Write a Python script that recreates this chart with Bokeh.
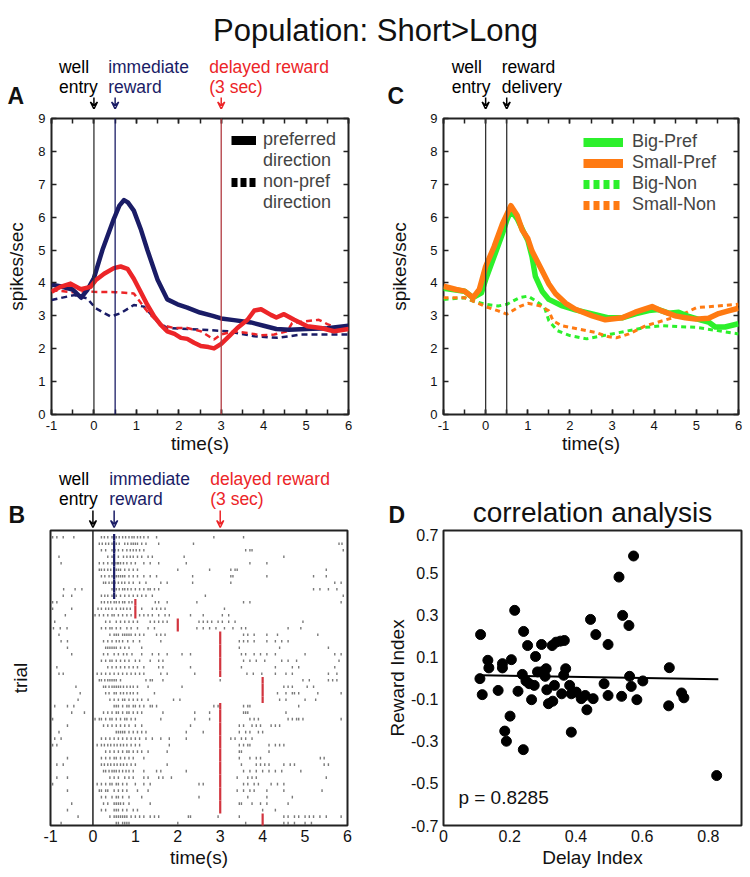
from bokeh.plotting import figure
from bokeh.layouts import column, row
from bokeh.models import (Range1d, LinearAxis, Span, Label, Arrow, VeeHead,
                          Legend, LegendItem, FixedTicker)
from bokeh.embed import file_html
from bokeh.resources import INLINE

FONT = "Liberation Sans"
NAVY = "#1a1c66"
RED = "#ec2528"
DARKRED = "#b23a40"
GREEN = "#2cf02c"
ORANGE = "#ff7a12"
NAN = float("nan")

# ---------------- data ----------------
title_text = "Population: Short>Long"

time_ticks = [-1, 0, 1, 2, 3, 4, 5, 6]
time_labels = ["-1", "0", "1", "2", "3", "4", "5", "6"]
time_minor = [-1, -0.5, 0, 0.5, 1, 1.5, 2, 2.5, 3, 3.5, 4, 4.5, 5, 5.5, 6]
rate_ticks = [0, 1, 2, 3, 4, 5, 6, 7, 8, 9]

# Panel A: immediate (blue) vs delayed (red), preferred (solid) / non-pref (dashed)
a_imm_pref_t = [-1, -0.8, -0.5, -0.3, -0.15, 0, 0.2, 0.47, 0.6, 0.71, 0.8, 0.94, 1.1, 1.26, 1.5,
                1.73, 1.97, 2.2, 2.5, 2.8, 3.0, 3.3, 3.7, 4.0, 4.3, 4.6, 5.0, 5.5, 6.0]
a_imm_pref_y = [3.95, 3.9, 3.8, 3.55, 3.8, 4.15, 5.0, 5.95, 6.35, 6.52, 6.45, 6.2, 5.65, 5.0, 4.1,
                3.5, 3.35, 3.25, 3.1, 3.0, 2.92, 2.87, 2.8, 2.7, 2.6, 2.58, 2.6, 2.62, 2.7]
a_del_pref_t = [-1, -0.79, -0.55, -0.31, -0.08, 0.04, 0.24, 0.47, 0.63, 0.79, 0.94, 1.1, 1.26, 1.42,
                1.57, 1.73, 1.9, 2.05, 2.2, 2.36, 2.52, 2.7, 2.83, 3.0, 3.2, 3.38, 3.62, 3.78, 3.94,
                4.17, 4.3, 4.48, 4.72, 5.03, 5.35, 5.66, 6.0]
a_del_pref_y = [3.73, 3.88, 3.98, 3.81, 3.88, 4.08, 4.28, 4.45, 4.5, 4.43, 4.13, 3.73, 3.33, 2.98,
                2.73, 2.53, 2.45, 2.33, 2.3, 2.18, 2.08, 2.05, 2.01, 2.15, 2.4, 2.63, 2.88, 3.16, 3.2,
                3.03, 2.95, 3.05, 2.88, 2.68, 2.63, 2.53, 2.6]
a_imm_non_t = [-1, -0.47, -0.16, 0.04, 0.39, 0.63, 0.94, 1.18, 1.49, 1.73, 2.52, 3.15, 3.78, 4.33, 4.88, 6.0]
a_imm_non_y = [3.48, 3.63, 3.53, 3.23, 2.98, 3.08, 3.33, 3.28, 2.83, 2.63, 2.58, 2.53, 2.38, 2.33, 2.43, 2.43]
a_del_non_t = [-1, -0.5, -0.2, 0, 0.5, 0.94, 1.26, 1.57, 1.89, 2.2, 2.52, 2.83, 2.99, 3.3, 3.62, 3.94,
               4.25, 4.56, 4.67, 4.98, 5.3, 5.5, 5.7, 6.0]
a_del_non_y = [3.78, 3.72, 3.75, 3.73, 3.72, 3.68, 3.13, 2.73, 2.63, 2.63, 2.53, 2.28, 2.43, 2.53, 2.48,
               2.41, 2.43, 2.53, 2.78, 2.83, 2.88, 2.75, 2.65, 2.63]
a_event_t = [0, 0.5, 3]
a_event_text = ["well\nentry", "immediate\nreward", "delayed reward\n(3 sec)"]
a_legend = ["preferred", "direction", "non-pref", "direction"]

# Panel C: big / small reward
c_big_pref_t = [-1, -0.5, -0.3, -0.1, 0, 0.2, 0.4, 0.5, 0.6, 0.75, 0.9, 1.0, 1.1, 1.18, 1.34, 1.5,
                1.82, 2.13, 2.53, 2.92, 3.24, 3.55, 3.87, 4.1, 4.34, 4.58, 4.82, 5.13, 5.29, 5.45, 5.68, 6.0]
c_big_pref_y = [3.84, 3.75, 3.55, 3.7, 4.1, 4.8, 5.5, 5.9, 6.2, 5.95, 5.55, 5.3, 4.8, 4.2, 3.75, 3.5,
                3.3, 3.18, 3.06, 2.94, 2.94, 3.06, 3.16, 3.19, 3.08, 3.11, 2.98, 2.86, 2.81, 2.66, 2.66, 2.76]
c_small_pref_t = [-1, -0.7, -0.5, -0.3, -0.15, 0, 0.2, 0.4, 0.6, 0.75, 0.87, 1.0, 1.1, 1.34, 1.5, 1.66,
                  1.9, 2.13, 2.53, 2.84, 3.24, 3.55, 3.95, 4.18, 4.5, 4.74, 4.98, 5.29, 5.53, 5.76, 6.0]
c_small_pref_y = [3.9, 3.8, 3.75, 3.55, 3.8, 4.5, 5.1, 5.8, 6.35, 6.05, 5.6, 5.35, 4.97, 4.37, 3.97, 3.67,
                  3.38, 3.2, 3.0, 2.88, 2.94, 3.11, 3.28, 3.15, 3.0, 2.94, 2.9, 2.93, 3.07, 3.15, 3.23]
c_big_non_t = [-1, -0.5, -0.3, 0, 0.3, 0.5, 0.8, 1.0, 1.2, 1.4, 1.5, 1.7, 2.0, 2.4, 2.8, 3.0, 3.4, 3.8,
               4.2, 4.6, 5.0, 5.5, 6.0]
c_big_non_y = [3.5, 3.55, 3.45, 3.35, 3.3, 3.35, 3.55, 3.6, 3.45, 3.25, 2.85, 2.55, 2.4, 2.3, 2.4, 2.45,
               2.55, 2.65, 2.7, 2.67, 2.65, 2.55, 2.45]
c_small_non_t = [-1, -0.5, -0.3, 0, 0.3, 0.5, 0.8, 1.0, 1.3, 1.5, 1.6, 1.8, 2.2, 2.6, 2.9, 3.1, 3.4, 3.8,
                 4.2, 4.6, 5.0, 5.5, 6.0]
c_small_non_y = [3.55, 3.55, 3.45, 3.28, 3.15, 3.05, 3.28, 3.38, 3.3, 3.15, 2.85, 2.7, 2.6, 2.5, 2.37, 2.33,
                 2.45, 2.7, 2.85, 3.0, 3.25, 3.3, 3.35]
c_event_t = [0, 0.5]
c_event_text = ["well\nentry", "reward\ndelivery"]
c_legend = ["Big-Pref", "Small-Pref", "Big-Non", "Small-Non"]

# Panel B: raster, one list of spike times per trial (top trial first)
spike_times = [
    [-0.95, -0.85, -0.7, -0.45, 0.2, 0.27, 0.35, 0.45, 0.5, 0.55, 0.62, 0.7, 0.77, 0.85, 0.92, 0.97, 1.05, 1.12, 1.2, 1.3, 1.5, 2.85, 3.55],
    [0.15, 0.22, 0.3, 0.37, 0.45, 0.55, 0.62, 0.75, 0.82, 0.9, 0.95, 1.0, 1.05, 1.15, 1.25, 1.55, 2.37, 5.8, 5.87],
    [0.2, 0.3, 0.45, 0.52, 0.6, 0.7, 0.8, 0.88, 0.95, 1.02, 1.1, 1.2, 3.6, 3.7, 3.75, 5.9],
    [-0.8, 0.35, 0.45, 0.6, 0.72, 0.8, 0.88, 0.95, 1.05, 1.15, 1.3, 1.4, 2.15, 4.5],
    [-0.75, 0.15, 0.25, 0.35, 0.45, 0.52, 0.57, 0.6, 0.65, 0.72, 0.8, 0.9, 1.0, 1.2, 1.35, 1.55, 2.2, 3.7, 4.1],
    [0.15, 0.2, 0.27, 0.35, 0.42, 0.5, 0.55, 0.6, 0.65, 0.75, 0.85, 0.95, 1.05, 2.0, 2.75, 3.25, 3.35, 3.4, 5.5],
    [0.2, 0.28, 0.38, 0.45, 0.55, 0.6, 0.65, 0.7, 0.75, 0.85, 0.95, 1.05, 1.2, 1.35, 1.5, 2.35, 3.25, 3.3, 4.1, 5.2, 5.5],
    [0.25, 0.3, 0.38, 0.45, 0.52, 0.6, 0.68, 0.75, 0.85, 0.95, 1.1, 1.25, 1.6, 1.75, 2.35, 3.25, 5.7, 5.85],
    [-0.69, -0.42, -0.26, 0.45, 0.55, 0.62, 0.7, 0.75, 0.82, 0.9, 1.0, 1.1, 1.2, 1.3, 1.35, 1.45, 1.55, 5.2, 5.35, 5.55, 5.75],
    [-0.7, -0.5, 0.2, 0.28, 0.35, 0.45, 0.55, 0.65, 0.75, 0.85, 0.95, 1.05, 1.15, 1.25, 1.4, 2.65, 5.9],
    [-0.95, -0.85, 0.2, 0.27, 0.35, 0.42, 0.5, 0.55, 0.62, 0.7, 0.75, 0.85, 0.92, 1.47, 1.55, 1.75, 2.45, 3.55, 3.7, 5.85],
    [-0.95, -0.5, 0.12, 0.2, 0.3, 0.37, 0.45, 0.55, 0.65, 0.72, 0.8, 0.88, 1.15, 1.4, 1.5, 1.6, 1.7, 3.1],
    [-0.65, 0.05, 0.15, 0.25, 0.35, 0.45, 0.5, 0.6, 0.7, 0.8, 0.9, 1.1, 1.2, 1.3, 1.4, 1.55, 1.7, 1.8, 2.3, 2.6, 3.05, 3.2],
    [-0.9, 0.3, 0.4, 0.55, 0.65, 0.75, 0.85, 0.95, 1.05, 1.35, 1.45, 1.55, 1.65, 1.75, 2.5, 2.6, 2.7, 2.8, 2.95, 3.05, 3.2, 3.35, 4.95],
    [-0.93, -0.77, -0.61, 0.2, 0.3, 0.4, 0.45, 0.55, 0.65, 0.8, 0.9, 1.05, 1.3, 1.45, 2.45, 2.6, 2.75, 2.9, 3.1, 3.3, 3.5, 3.6, 4.6, 4.9],
    [-0.8, 0.4, 0.5, 0.55, 0.6, 0.7, 0.75, 0.8, 0.85, 0.9, 1.0, 1.1, 1.2, 1.5, 1.6, 1.7, 3.55, 3.65, 3.8, 4.1, 4.35, 5.3],
    [-0.75, -0.6, 0.25, 0.35, 0.45, 0.55, 0.62, 0.7, 0.82, 0.95, 1.1, 1.6, 3.45, 3.55, 3.65, 3.8, 4.1, 4.3, 4.45, 4.6],
    [-0.6, 0.3, 0.35, 0.4, 0.45, 0.5, 0.55, 0.65, 0.75, 0.85, 1.15, 3.45, 4.4, 5.55],
    [-0.5, 0.25, 0.35, 0.5, 0.6, 0.72, 0.8, 0.92, 1.15, 1.4, 1.55, 1.75, 2.1, 2.3, 3.5, 3.6, 3.8, 3.95, 4.1, 4.3, 5.0, 5.7, 5.85],
    [0.2, 0.3, 0.4, 0.45, 0.55, 0.65, 0.75, 0.85, 1.0, 1.1, 1.35, 1.55, 1.65, 3.55, 3.7, 3.85, 4.05, 4.45, 4.6, 4.8, 5.8],
    [-0.85, 0.35, 0.45, 0.55, 0.65, 0.75, 0.85, 0.95, 1.05, 1.2, 1.55, 1.65, 2.3, 3.5, 4.3, 4.7, 4.85, 5.7],
    [-0.8, -0.7, 0.1, 0.2, 0.3, 0.4, 0.5, 0.6, 0.7, 0.8, 0.9, 1.0, 1.1, 1.2, 1.6, 1.75, 2.4, 3.63, 3.78, 3.98, 4.3, 4.55, 4.7, 5.55, 5.75],
    [0.15, 0.2, 0.28, 0.35, 0.4, 0.45, 0.5, 0.55, 0.65, 1.25, 1.35, 1.4, 1.65, 3.0, 4.95, 5.1, 5.55, 5.65, 5.75],
    [-0.4, 0.25, 0.3, 0.38, 0.45, 0.5, 0.55, 0.6, 0.65, 0.72, 0.8, 0.88, 0.95, 1.05, 1.3, 2.1, 4.5, 4.6, 4.7, 5.05, 5.2],
    [-0.3, 0.3, 0.38, 0.5, 0.55, 0.65, 0.72, 0.8, 0.88, 0.95, 1.05, 1.45, 4.35, 4.55, 4.7, 4.75, 4.85, 5.3, 5.85],
    [-0.35, 0.4, 0.5, 0.6, 0.7, 0.75, 0.85, 0.95, 1.05, 1.15, 1.3, 1.9, 2.05, 4.4, 4.55, 5.0, 5.25],
    [-0.9, -0.6, -0.45, 0.5, 0.55, 0.6, 0.7, 0.8, 0.85, 0.95, 1.0, 1.1, 1.2, 1.35, 1.4, 1.5, 2.85, 2.95, 3.55, 3.65, 3.7, 4.85],
    [-0.5, -0.2, 0.25, 0.35, 0.45, 0.55, 0.6, 0.7, 0.8, 0.85, 0.95, 1.05, 1.15, 1.65, 2.4, 2.75, 3.55, 3.6, 3.65, 4.55],
    [-0.95, 0.05, 0.15, 0.2, 0.3, 0.4, 0.45, 0.55, 0.65, 0.75, 0.8, 0.9, 1.0, 1.6, 2.4, 2.75, 3.7, 3.8, 3.9, 4.6, 4.7, 4.8, 4.85, 4.95, 5.85],
    [-0.6, 0.25, 0.35, 0.45, 0.55, 0.65, 0.75, 0.85, 1.0, 1.15, 2.3, 3.45, 3.55, 3.75, 3.85, 3.95, 4.2, 4.3, 4.4],
    [-0.8, 0.55, 0.6, 0.65, 0.7, 0.75, 0.85, 0.95, 1.05, 1.15, 1.25, 2.2, 2.6, 3.45, 3.6, 3.7, 3.9, 4.0],
    [-0.9, -0.75, 0.2, 0.3, 0.4, 0.5, 0.6, 0.7, 0.8, 0.9, 1.0, 1.1, 1.25, 1.4, 1.6, 1.8, 2.2, 3.25, 3.35, 3.5, 3.6, 3.75],
    [-0.95, -0.85, 0.1, 0.2, 0.27, 0.35, 0.42, 0.5, 0.57, 0.65, 0.72, 0.8, 0.9, 1.0, 1.1, 1.8, 3.45, 3.55, 3.65, 3.7, 4.15, 4.3, 4.4, 4.5],
    [0.3, 0.4, 0.5, 0.6, 0.7, 0.8, 0.85, 0.95, 1.05, 1.15, 1.3, 1.75, 3.45, 3.5, 4.15],
    [-0.6, 0.2, 0.3, 0.4, 0.5, 0.55, 0.65, 0.75, 0.85, 0.95, 1.2, 3.45, 3.7, 3.85, 3.95, 5.36, 5.45],
    [-0.85, -0.7, 0.2, 0.27, 0.35, 0.42, 0.5, 0.57, 0.65, 0.72, 0.8, 0.9, 1.0, 1.75, 3.5, 3.85, 3.95, 4.05, 4.15, 4.5, 4.65, 4.75, 5.45, 5.55],
    [0.25, 0.3, 0.38, 0.45, 0.5, 0.55, 0.62, 0.7, 0.78, 0.85, 0.95, 1.2, 1.5, 1.6, 2.2, 3.55, 3.7, 3.85, 4.0, 4.15, 4.3, 4.45, 4.9],
    [-0.85, -0.6, 0.4, 0.5, 0.6, 0.75, 0.85, 0.95, 1.2, 1.3, 1.55, 1.65, 1.85, 3.4, 3.65, 3.75, 3.85, 5.5],
    [-0.95, 0.1, 0.2, 0.3, 0.4, 0.45, 0.55, 0.6, 0.7, 0.8, 1.0, 1.2, 1.35, 2.5, 2.6, 3.55, 3.65, 3.8, 3.9, 4.2, 4.35, 4.5],
    [-0.6, 0.15, 0.2, 0.3, 0.35, 0.5, 0.6, 0.7, 0.8, 1.05, 1.3, 3.4, 3.55, 3.7, 3.8, 4.1, 4.5, 5.4],
    [0.2, 0.3, 0.45, 0.55, 0.6, 0.7, 0.85, 1.15, 2.5, 3.65, 4.1, 4.7],
    [-0.5, 0.25, 0.35, 0.5, 0.55, 0.6, 0.65, 0.72, 0.85, 1.35, 3.45, 3.5, 3.75, 3.95, 4.1, 4.6],
    [-0.6, 0.2, 0.3, 0.5, 0.55, 0.6, 0.7, 0.8, 0.95, 1.05, 4.0, 4.3],
    [-0.35, 0.4, 0.5, 0.55, 0.6, 0.65, 0.7, 0.75, 0.8, 0.9, 1.0, 1.1, 1.2, 1.35, 1.45, 1.55, 2.25, 2.3, 2.95, 3.45, 4.5, 4.6, 4.75, 4.85, 5.0, 5.1, 5.2, 5.35, 5.5, 5.85],
    [-0.75, 0.55, 0.6, 0.7, 0.75, 0.8, 0.85, 2.0, 3.6, 4.5, 4.6, 4.75, 5.0, 5.15],
]
reward_times = [0.5, 0.5, 0.5, 0.5, 0.5, 0.5, 0.5, 0.5, 0.5, 0.5,
                1, 1, 1, 2, 2,
                3, 3, 3, 3, 3, 3, 3,
                4, 4, 4, 4,
                3, 3, 3, 3, 3, 3, 3, 3, 3, 3, 3, 3, 3, 3, 3, 3, 3,
                4, 4]
b_event_t = [0, 0.5, 3]
b_event_text = ["well\nentry", "immediate\nreward", "delayed reward\n(3 sec)"]

# Panel D: correlation
delay_index = [0.112, 0.215, 0.242, 0.254, 0.296, 0.328, 0.340, 0.353, 0.365, 0.278, 0.444, 0.460,
               0.497, 0.530, 0.574, 0.541, 0.560, 0.134, 0.137, 0.178, 0.178, 0.205, 0.110, 0.117,
               0.165, 0.225, 0.238, 0.249, 0.259, 0.274, 0.266, 0.284, 0.296, 0.310, 0.307, 0.312,
               0.317, 0.330, 0.335, 0.369, 0.363, 0.357, 0.381, 0.386, 0.386, 0.401, 0.416, 0.428,
               0.433, 0.452, 0.485, 0.497, 0.538, 0.562, 0.567, 0.584, 0.602, 0.682, 0.680, 0.719,
               0.726, 0.201, 0.185, 0.190, 0.241, 0.825]
reward_index = [0.206, 0.321, 0.221, 0.154, 0.159, 0.154, 0.170, 0.175, 0.178, 0.102, 0.278, 0.206,
                0.159, 0.479, 0.579, 0.297, 0.249, 0.084, 0.048, 0.068, 0.048, 0.087, -0.003, -0.079,
                -0.059, -0.063, 0.017, -0.014, -0.027, -0.035, -0.103, 0.029, 0.029, 0.044, 0.008, -0.056,
                -0.122, -0.110, -0.035, 0.044, 0.013, -0.075, -0.035, -0.075, -0.257, -0.067, -0.098, -0.083,
                -0.151, -0.098, -0.027, -0.083, -0.087, 0.008, -0.040, -0.103, -0.014, 0.049, -0.132, -0.071,
                -0.094, -0.181, -0.252, -0.300, -0.340, -0.463]
fit_x = [0.11, 0.83]
fit_y = [0.013, -0.006]
d_xticks = [0, 0.2, 0.4, 0.6, 0.8]
d_xlabels = ["0", "0.2", "0.4", "0.6", "0.8"]
d_yticks = [-0.7, -0.5, -0.3, -0.1, 0.1, 0.3, 0.5, 0.7]
d_ylabels = ["-0.7", "-0.5", "-0.3", "-0.1", "0.1", "0.3", "0.5", "0.7"]
p_text = "p = 0.8285"
d_title = "correlation analysis"

# ---------------- layout constants (pixels) ----------------
W = 375
TITLE_H = 54
HEAD1_H, HEAD2_H = 55, 70
A_L, A_R, FW_A = 51, 27, 297
C_L, C_R, FW_C = 68, 12, 295
B_L, B_R, FW_B = 50, 28, 297
D_L, D_R, FW_D = 68, 9, 298


# ---------------- helpers ----------------
def base_fig(w, h, xr, yr, left, right, top, bottom):
    p = figure(width=w, height=h, x_range=xr, y_range=yr, toolbar_location=None,
               output_backend="svg", min_border_left=left, min_border_right=right,
               min_border_top=top, min_border_bottom=bottom)
    p.grid.visible = False
    p.outline_line_color = "#222222"
    p.outline_line_width = 2
    p.border_fill_color = "white"
    return p


def header_fig(x0, x1, frame_w, left, right, h):
    span = x1 - x0
    xr = Range1d(x0 - left * span / frame_w, x1 + right * span / frame_w)
    p = figure(width=W, height=h, x_range=xr, y_range=Range1d(0, h), toolbar_location=None,
               output_backend="svg", min_border=0, x_axis_location=None, y_axis_location=None)
    p.grid.visible = False
    p.outline_line_color = None
    return p


def style_axis(ax, tick_in=5, label_size="13px"):
    ax.axis_line_color = None
    ax.major_label_text_font = FONT
    ax.major_label_text_font_size = label_size
    ax.major_label_text_color = "#111111"
    ax.axis_label_text_font = FONT
    ax.axis_label_text_font_size = "19px"
    ax.axis_label_text_font_style = "normal"
    ax.axis_label_text_color = "#111111"
    ax.major_tick_out = 0
    ax.minor_tick_out = 0
    ax.major_tick_in = tick_in
    ax.minor_tick_in = tick_in
    ax.major_tick_line_color = "#222222"
    ax.minor_tick_line_color = "#222222"
    ax.major_tick_line_width = 1.5
    ax.minor_tick_line_width = 1.5


def mirror_axes(p, xt, yt):
    for side, tk in (("above", xt), ("right", yt)):
        ax = LinearAxis(ticker=tk)
        style_axis(ax, label_size="1px")
        ax.major_label_text_color = None
        ax.major_label_standoff = 0
        p.add_layout(ax, side)


def letter(h, px, y, txt):
    h.add_layout(Label(x=px, y=y, x_units="screen", text=txt, text_font=FONT,
                       text_font_size="23px", text_font_style="bold", text_baseline="top",
                       text_align="left", text_color="#111111"))


def event_marks(h, times, texts, colors, offsets, text_y, arrow_y0, arrow_y1):
    for t, txt, c, off in zip(times, texts, colors, offsets):
        h.add_layout(Label(x=t, y=text_y, text=txt, x_offset=off, text_font=FONT,
                           text_font_size="17.5px", text_color=c, text_baseline="top",
                           text_align="left", text_line_height=1.0))
        h.add_layout(Arrow(x_start=t, y_start=arrow_y0, x_end=t, y_end=arrow_y1,
                           line_color=c, line_width=1.5,
                           end=VeeHead(size=7, line_color=c, line_width=1.5, fill_color=None)))


# ---------------- title ----------------
pT = figure(width=2 * W, height=TITLE_H, x_range=Range1d(0, 1), y_range=Range1d(0, 1),
            toolbar_location=None, output_backend="svg", min_border=0,
            x_axis_location=None, y_axis_location=None)
pT.grid.visible = False
pT.outline_line_color = None
pT.add_layout(Label(x=0.5, y=0.44, text=title_text, text_font=FONT, text_font_size="31px",
                    text_align="center", text_baseline="middle", text_color="#111111"))

# ---------------- panel A ----------------
xtA = FixedTicker(ticks=time_ticks, minor_ticks=time_minor)
ytA = FixedTicker(ticks=rate_ticks, minor_ticks=[])
pA = base_fig(W, 349, Range1d(-1, 6), Range1d(0, 9), A_L, A_R, 9, 44)
pA.xaxis.ticker = xtA
pA.yaxis.ticker = ytA
pA.xaxis.major_label_overrides = dict(zip(time_ticks, time_labels))
pA.xaxis.axis_label = "time(s)"
pA.yaxis.axis_label = "spikes/sec"
for ax in pA.axis:
    style_axis(ax)
pA.xaxis.major_label_standoff = 6
pA.xaxis.axis_label_standoff = 0
pA.yaxis.major_label_standoff = 6
pA.yaxis.axis_label_standoff = 8
mirror_axes(pA, xtA, ytA)

for t, c in zip(a_event_t, ["#333333", NAVY, DARKRED]):
    pA.add_layout(Span(location=t, dimension="height", line_color=c, line_width=1.3))

pA.line(a_imm_non_t, a_imm_non_y, line_color=NAVY, line_width=2.5, line_dash="6 4")
pA.line(a_del_non_t, a_del_non_y, line_color=RED, line_width=2.5, line_dash="6 4")
pA.line(a_imm_pref_t, a_imm_pref_y, line_color=NAVY, line_width=4.5, line_join="round")
pA.line(a_del_pref_t, a_del_pref_y, line_color=RED, line_width=4.5, line_join="round")

legA_r = [pA.line(x=[NAN], y=[NAN], line_color="black", line_width=9),
          pA.line(x=[NAN], y=[NAN], line_color="black", line_width=9, line_alpha=0),
          pA.line(x=[NAN], y=[NAN], line_color="black", line_width=9, line_dash="6 3"),
          pA.line(x=[NAN], y=[NAN], line_color="black", line_width=9, line_alpha=0)]
legA = Legend(items=[LegendItem(label=lab, renderers=[r]) for lab, r in zip(a_legend, legA_r)],
              location=(180, 201), margin=0, padding=0, spacing=-2,
              label_text_font=FONT, label_text_font_size="18px", label_standoff=7,
              glyph_width=25, glyph_height=18, label_height=18, border_line_color=None,
              background_fill_alpha=0)
pA.add_layout(legA)

hA = header_fig(-1, 6, FW_A, A_L, A_R, HEAD1_H)
event_marks(hA, a_event_t, a_event_text, ["black", NAVY, RED], [-35, -7, -12], 53, 12, 0.5)
letter(hA, 7, 27, "A")

# ---------------- panel C ----------------
xtC = FixedTicker(ticks=time_ticks, minor_ticks=time_minor)
ytC = FixedTicker(ticks=rate_ticks, minor_ticks=[])
pC = base_fig(W, 349, Range1d(-1, 6), Range1d(0, 9), C_L, C_R, 9, 44)
pC.xaxis.ticker = xtC
pC.yaxis.ticker = ytC
pC.xaxis.major_label_overrides = dict(zip(time_ticks, time_labels))
pC.xaxis.axis_label = "time(s)"
pC.yaxis.axis_label = "spikes/sec"
for ax in pC.axis:
    style_axis(ax)
pC.xaxis.major_label_standoff = 6
pC.xaxis.axis_label_standoff = 0
pC.yaxis.major_label_standoff = 6
pC.yaxis.axis_label_standoff = 17
mirror_axes(pC, xtC, ytC)

for t in c_event_t:
    pC.add_layout(Span(location=t, dimension="height", line_color="#333333", line_width=1.3))

pC.line(c_big_non_t, c_big_non_y, line_color=GREEN, line_width=3, line_dash="5 4")
pC.line(c_small_non_t, c_small_non_y, line_color=ORANGE, line_width=3, line_dash="5 4")
pC.line(c_big_pref_t, c_big_pref_y, line_color=GREEN, line_width=5.5, line_join="round")
pC.line(c_small_pref_t, c_small_pref_y, line_color=ORANGE, line_width=5.5, line_join="round")

legC_r = [pC.line(x=[NAN], y=[NAN], line_color=GREEN, line_width=9),
          pC.line(x=[NAN], y=[NAN], line_color=ORANGE, line_width=9),
          pC.line(x=[NAN], y=[NAN], line_color=GREEN, line_width=9, line_dash="6 4"),
          pC.line(x=[NAN], y=[NAN], line_color=ORANGE, line_width=9, line_dash="6 4")]
legC = Legend(items=[LegendItem(label=lab, renderers=[r]) for lab, r in zip(c_legend, legC_r)],
              location=(140, 199), margin=0, padding=0, spacing=-1,
              label_text_font=FONT, label_text_font_size="18px", label_standoff=9,
              glyph_width=40, glyph_height=20, label_height=20, border_line_color=None,
              background_fill_alpha=0)
pC.add_layout(legC)

hC = header_fig(-1, 6, FW_C, C_L, C_R, HEAD1_H)
event_marks(hC, c_event_t, c_event_text, ["black", "black"], [-34, -5], 53, 12, 0.5)
letter(hC, 12, 27, "C")

# ---------------- panel B ----------------
n_trials = len(reward_times)
pB = base_fig(W, 349, Range1d(-1, 6), Range1d(n_trials - 0.64, -1.03), B_L, B_R, 2, 52)
pB.xaxis.ticker = FixedTicker(ticks=time_ticks, minor_ticks=[])
pB.xaxis.major_label_overrides = dict(zip(time_ticks, time_labels))
pB.yaxis.ticker = FixedTicker(ticks=[], minor_ticks=[])
pB.xaxis.axis_label = "time(s)"
pB.yaxis.axis_label = "trial"
for ax in pB.axis:
    style_axis(ax, tick_in=0, label_size="16px")
pB.yaxis.major_label_text_color = None
pB.yaxis.major_label_standoff = 0
pB.yaxis.axis_label_standoff = 20
pB.xaxis.major_label_standoff = 4
pB.xaxis.axis_label_standoff = 2

sx, sy0, sy1 = [], [], []
for k, times in enumerate(spike_times):
    for t in times:
        sx.append(t)
        sy0.append(k - 0.2)
        sy1.append(k + 0.2)
pB.segment(x0=sx, y0=sy0, x1=sx, y1=sy1, line_color="#333333", line_width=1.4, line_alpha=0.65)

pB.add_layout(Span(location=b_event_t[0], dimension="height", line_color="#222222", line_width=1.5))
rk = list(range(n_trials))
r_col = [NAVY if t == b_event_t[1] else "#d2343e" for t in reward_times]
pB.segment(x0=reward_times, y0=[k - 0.5 for k in rk], x1=reward_times, y1=[k + 0.5 for k in rk],
           line_color=r_col, line_width=2.2)

hB = header_fig(-1, 6, FW_B, B_L, B_R, HEAD2_H)
event_marks(hB, b_event_t, b_event_text, ["black", NAVY, RED], [-34, -5, -10], 60, 18, 1)
letter(hB, 8, 27, "B")

# ---------------- panel D ----------------
pD = base_fig(W, 349, Range1d(0, 0.9), Range1d(-0.7, 0.7), D_L, D_R, 2, 52)
pD.xaxis.ticker = FixedTicker(ticks=d_xticks, minor_ticks=[])
pD.yaxis.ticker = FixedTicker(ticks=d_yticks, minor_ticks=[])
pD.xaxis.major_label_overrides = dict(zip(d_xticks, d_xlabels))
pD.yaxis.major_label_overrides = dict(zip(d_yticks, d_ylabels))
pD.xaxis.axis_label = "Delay Index"
pD.yaxis.axis_label = "Reward Index"
for ax in pD.axis:
    style_axis(ax, tick_in=0, label_size="16px")
pD.xaxis.major_label_standoff = 4
pD.xaxis.axis_label_standoff = 2
pD.yaxis.major_label_standoff = 5
pD.yaxis.axis_label_standoff = 0

pD.scatter(delay_index, reward_index, size=10, color="black")
pD.line(fit_x, fit_y, line_color="black", line_width=2)
pD.add_layout(Label(x=0.045, y=-0.568, text=p_text, text_font=FONT, text_font_size="19px",
                    text_align="left", text_baseline="middle", text_color="#111111"))

hD = header_fig(0, 0.9, FW_D, D_L, D_R, HEAD2_H)
hD.add_layout(Label(x=0.45, y=16, text=d_title, text_font=FONT, text_font_size="28px",
                    text_align="center", text_baseline="middle", text_color="#111111"))
letter(hD, 13, 27, "D")

layout = column(pT, row(hA, hC), row(pA, pC), row(hB, hD), row(pB, pD))
open("out.html", "w").write(file_html(layout, INLINE))
